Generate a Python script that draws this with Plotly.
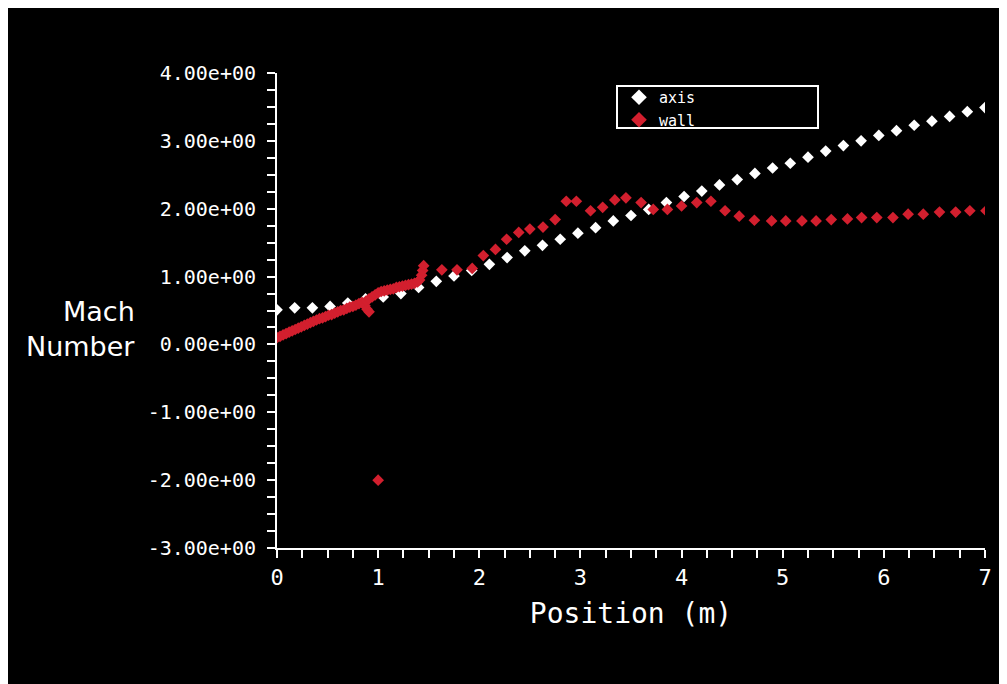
import plotly.graph_objects as go

# ---------------- data ----------------
axis_x = [0.000, 0.175, 0.350, 0.525, 0.700, 0.875, 1.050, 1.225, 1.400, 1.575,
          1.750, 1.925, 2.100, 2.275, 2.450, 2.625, 2.800, 2.975, 3.150, 3.325,
          3.500, 3.675, 3.850, 4.025, 4.200, 4.375, 4.550, 4.725, 4.900, 5.075,
          5.250, 5.425, 5.600, 5.775, 5.950, 6.125, 6.300, 6.475, 6.650, 6.825, 7.000]
axis_mach = [0.51, 0.54, 0.54, 0.56, 0.61, 0.67, 0.70, 0.75, 0.84, 0.93,
             1.01, 1.09, 1.18, 1.28, 1.38, 1.46, 1.55, 1.64, 1.72, 1.82,
             1.90, 1.99, 2.09, 2.18, 2.26, 2.35, 2.43, 2.52, 2.60, 2.67,
             2.76, 2.85, 2.93, 3.00, 3.08, 3.15, 3.23, 3.29, 3.36, 3.43, 3.49]

wall_x = [0.00, 0.03, 0.06, 0.09, 0.12, 0.15, 0.18, 0.21, 0.24, 0.27,
          0.30, 0.33, 0.36, 0.39, 0.42, 0.45, 0.48, 0.51, 0.54, 0.57,
          0.60, 0.63, 0.66, 0.69, 0.72, 0.75, 0.78, 0.81, 0.84, 0.87,
          0.89, 0.91, 0.88, 0.91, 0.94, 0.97, 1.00, 1.03, 1.06, 1.09,
          1.12, 1.15, 1.18, 1.21, 1.24, 1.27, 1.30, 1.33, 1.36, 1.39,
          1.41, 1.43, 1.44, 1.45, 1.00,
          1.63, 1.78, 1.93, 2.04, 2.16, 2.27, 2.39, 2.50, 2.63, 2.75,
          2.86, 2.96, 3.10, 3.22, 3.34, 3.45, 3.60, 3.72, 3.86, 4.00,
          4.15, 4.29, 4.43, 4.57, 4.72, 4.89, 5.03, 5.19, 5.33, 5.48,
          5.64, 5.78, 5.93, 6.09, 6.24, 6.39, 6.55, 6.71, 6.85, 7.01]
wall_mach = [0.10, 0.12, 0.14, 0.16, 0.18, 0.20, 0.22, 0.24, 0.26, 0.28,
             0.30, 0.32, 0.34, 0.36, 0.38, 0.39, 0.41, 0.43, 0.44, 0.46,
             0.48, 0.50, 0.51, 0.53, 0.55, 0.56, 0.58, 0.60, 0.62, 0.57,
             0.52, 0.48, 0.64, 0.67, 0.70, 0.73, 0.76, 0.78, 0.79, 0.80,
             0.81, 0.82, 0.84, 0.85, 0.86, 0.87, 0.88, 0.89, 0.90, 0.92,
             0.95, 1.02, 1.09, 1.16, -2.00,
             1.10, 1.10, 1.12, 1.31, 1.40, 1.55, 1.65, 1.70, 1.73, 1.84,
             2.11, 2.11, 1.97, 2.02, 2.13, 2.16, 2.09, 1.99, 1.99, 2.04,
             2.09, 2.11, 1.97, 1.89, 1.83, 1.82, 1.82, 1.82, 1.82, 1.84,
             1.85, 1.87, 1.87, 1.87, 1.92, 1.92, 1.95, 1.95, 1.97, 1.97]

x_tick_vals = [0, 1, 2, 3, 4, 5, 6, 7]
x_tick_text = ["0", "1", "2", "3", "4", "5", "6", "7"]
y_tick_vals = [-3, -2, -1, 0, 1, 2, 3, 4]
y_tick_text = ["-3.00e+00", "-2.00e+00", "-1.00e+00", "0.00e+00",
               "1.00e+00", "2.00e+00", "3.00e+00", "4.00e+00"]

x_title = "Position (m)"
y_title_lines = ["Mach", "Number"]

# ---------------- figure ----------------
FONT = "DejaVu Sans Mono"
TITLE_FONT = "DejaVu Sans"
OFF = 8                      # page body margin offset
W, H = 1007 - OFF, 684 - OFF
L, R, T, B = 277 - OFF, 22, 73 - OFF, 136
pw, ph = W - L - R, H - T - B


def px_x(p):
    """screen x pixel -> paper x"""
    return (p - OFF - L) / pw


def px_y(p):
    """screen y pixel -> paper y"""
    return (H - B - (p - OFF)) / ph


fig = go.Figure()
fig.add_trace(go.Scatter(
    x=axis_x, y=axis_mach, mode="markers", name="axis",
    marker=dict(symbol="diamond", size=9, color="#ffffff", line=dict(width=0)),
))
fig.add_trace(go.Scatter(
    x=wall_x, y=wall_mach, mode="markers", name="wall",
    marker=dict(symbol="diamond", size=9, color="#d21f2e", line=dict(width=0)),
))

fig.update_xaxes(
    range=[0, 7], showgrid=False, zeroline=False,
    showline=True, linecolor="white", linewidth=2,
    tickmode="array", tickvals=x_tick_vals, ticktext=x_tick_text,
    ticks="outside", ticklen=8, tickwidth=2, tickcolor="white",
    minor=dict(tickmode="linear", tick0=0, dtick=0.25, ticks="outside",
               ticklen=8, tickwidth=2, tickcolor="white", showgrid=False),
    tickfont=dict(family=FONT, size=22, color="white"),
    ticklabelstandoff=1,
    title=dict(text=x_title, font=dict(family=FONT, size=28, color="white"),
               standoff=14),
)
fig.update_yaxes(
    range=[-3, 4], showgrid=False, zeroline=False,
    showline=True, linecolor="white", linewidth=2,
    tickmode="array", tickvals=y_tick_vals, ticktext=y_tick_text,
    ticks="outside", ticklen=8, tickwidth=2, tickcolor="white",
    minor=dict(tickmode="linear", tick0=0, dtick=0.25, ticks="outside",
               ticklen=8, tickwidth=2, tickcolor="white", showgrid=False),
    tickfont=dict(family=FONT, size=20, color="white"),
    ticklabelstandoff=7,
)

fig.add_annotation(text=y_title_lines[0], xref="paper", yref="paper",
                   x=px_x(137), y=px_y(311), xanchor="right", yanchor="middle",
                   showarrow=False, font=dict(family=TITLE_FONT, size=27, color="white"))
fig.add_annotation(text=y_title_lines[1], xref="paper", yref="paper",
                   x=px_x(137), y=px_y(346), xanchor="right", yanchor="middle",
                   showarrow=False, font=dict(family=TITLE_FONT, size=27, color="white"))

# legend frame
fig.add_shape(type="rect", xref="paper", yref="paper",
              x0=px_x(617), x1=px_x(818), y0=px_y(128), y1=px_y(86),
              fillcolor="black", line=dict(color="white", width=2), layer="below")

fig.update_layout(
    width=W, height=H, autosize=False,
    margin=dict(l=L, r=R, t=T, b=B),
    paper_bgcolor="black", plot_bgcolor="black",
    font=dict(family=FONT, color="white"),
    showlegend=True,
    legend=dict(x=px_x(619), y=px_y(81), xanchor="left", yanchor="top",
                bgcolor="rgba(0,0,0,0)", borderwidth=0,
                font=dict(family=FONT, size=15, color="white"),
                tracegroupgap=0, itemsizing="constant"),
)

fig.write_html("out.html")
